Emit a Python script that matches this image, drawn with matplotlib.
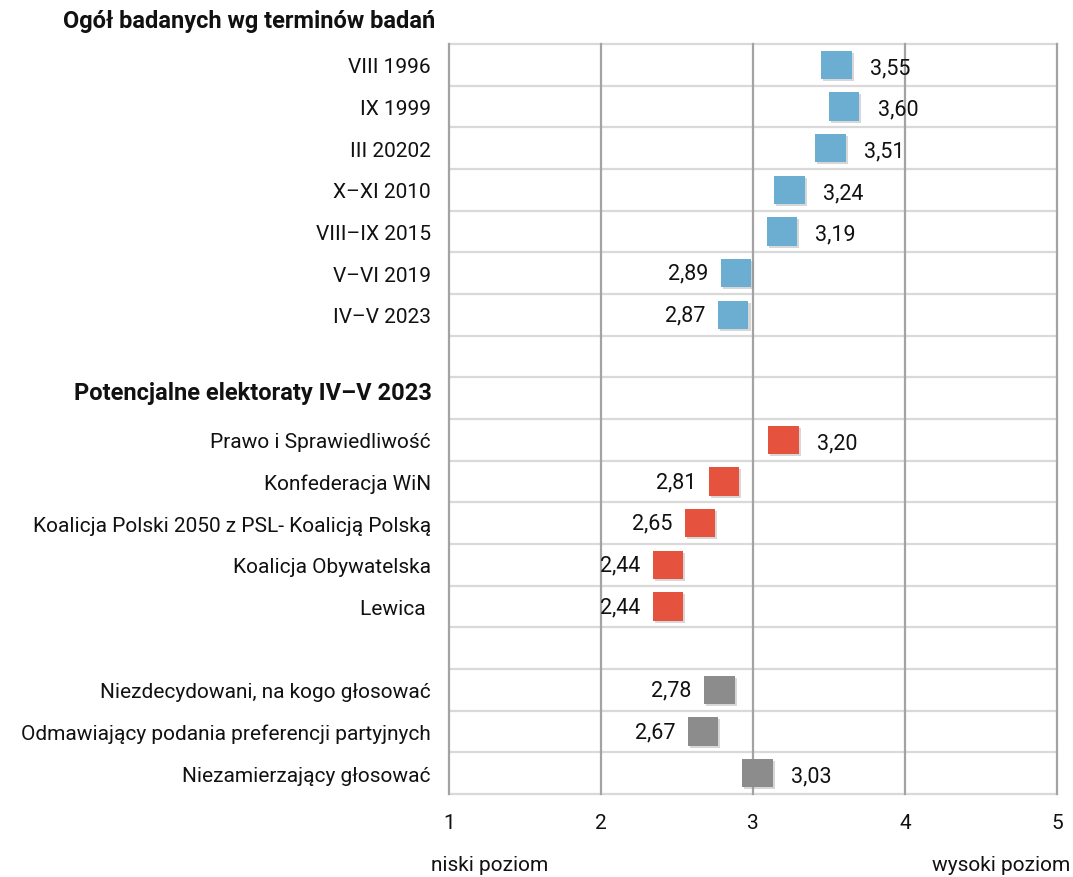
import matplotlib
matplotlib.use("Agg")
import matplotlib.pyplot as plt
import matplotlib.patheffects as pe

plt.rcParams['font.family'] = ['Roboto', 'DejaVu Sans']

# ---- data ----
title_top = "Ogół badanych wg terminów badań"
heading_mid = "Potencjalne elektoraty IV–V 2023"

labels_terms = ["VIII 1996", "IX 1999", "III 20202", "X–XI 2010", "VIII–IX 2015", "V–VI 2019", "IV–V 2023"]
values_terms = [3.55, 3.60, 3.51, 3.24, 3.19, 2.89, 2.87]

labels_parties = ["Prawo i Sprawiedliwość", "Konfederacja WiN", "Koalicja Polski 2050 z PSL- Koalicją Polską",
                  "Koalicja Obywatelska", "Lewica "]
values_parties = [3.20, 2.81, 2.65, 2.44, 2.44]

labels_other = ["Niezdecydowani, na kogo głosować", "Odmawiający podania preferencji partyjnych",
                "Niezamierzający głosować"]
values_other = [2.78, 2.67, 3.03]

x_ticks = [1, 2, 3, 4, 5]
x_low_label = "niski poziom"
x_high_label = "wysoki poziom"

col_terms = "#6BAED1"
col_parties = "#E5533F"
col_other = "#8C8C8C"

# ---- build rows ----
row_labels = labels_terms + [""] + [""] + labels_parties + [""] + labels_other
n_rows = len(row_labels)
y_terms = list(range(0, 7))
y_heading = 8
y_parties = list(range(9, 14))
y_other = list(range(15, 18))

fig = plt.figure(figsize=(10.73, 8.78), dpi=100)
ax = fig.add_axes([449/1073, 1 - 795/878, (1057-449)/1073, (795-45)/878])

ax.set_xlim(1, 5)
ax.set_ylim(n_rows - 0.5, -0.5)

# grid
for b in range(n_rows + 1):
    ax.axhline(b - 0.5, color="#d9d9d9", lw=1.6, zorder=1, clip_on=False)
for xv in x_ticks:
    ax.axvline(xv, color="#a3a3a3", lw=1.6, zorder=2, clip_on=False)

for s in ax.spines.values():
    s.set_visible(False)

marker = [(-1, -0.93), (1, -0.93), (1, 0.93), (-1, 0.93), (-1, -0.93)]
shadow = [pe.SimplePatchShadow(offset=(1.5, -1.5), shadow_rgbFace="#8f8f8f", alpha=0.35), pe.Normal()]

def plot_group(ys, vals, color):
    sc = ax.scatter(vals, ys, marker=marker, s=480, color=color, zorder=4, linewidths=0)
    sc.set_path_effects(shadow)
    for y, v in zip(ys, vals):
        txt = f"{v:.2f}".replace(".", ",")
        if v >= 3:
            ax.annotate(txt, (v, y), xytext=(24, -2), textcoords="offset points",
                        ha="left", va="center", fontsize=15.5, color="#111111", zorder=5)
        else:
            ax.annotate(txt, (v, y), xytext=(-20, 0), textcoords="offset points",
                        ha="right", va="center", fontsize=15.5, color="#111111", zorder=5)

plot_group(y_terms, values_terms, col_terms)
plot_group(y_parties, values_parties, col_parties)
plot_group(y_other, values_other, col_other)

ax.set_yticks(range(n_rows))
ax.set_yticklabels(row_labels, fontsize=15, color="#111111")
ax.tick_params(axis="y", length=0, pad=13)

ax.set_xticks(x_ticks)
ax.set_xticklabels([str(x) for x in x_ticks], fontsize=15, color="#111111")
ax.tick_params(axis="x", length=0, pad=14)

# headings
ax.annotate(title_top, (0, -1), xycoords=("axes fraction", "data"), xytext=(-10, 2),
            textcoords="offset points", ha="right", va="center",
            fontsize=17, fontweight="bold", color="#111111", annotation_clip=False)
ax.annotate(heading_mid, (0, y_heading), xycoords=("axes fraction", "data"), xytext=(-12, 4),
            textcoords="offset points", ha="right", va="center",
            fontsize=17, fontweight="bold", color="#111111", annotation_clip=False)

fig.text(490/1073, 1 - 866/878, x_low_label, ha="center", va="center", fontsize=15, color="#111111")
fig.text(1070/1073, 1 - 866/878, x_high_label, ha="right", va="center", fontsize=15, color="#111111")

fig.savefig("out.png", dpi=100, facecolor="white")
